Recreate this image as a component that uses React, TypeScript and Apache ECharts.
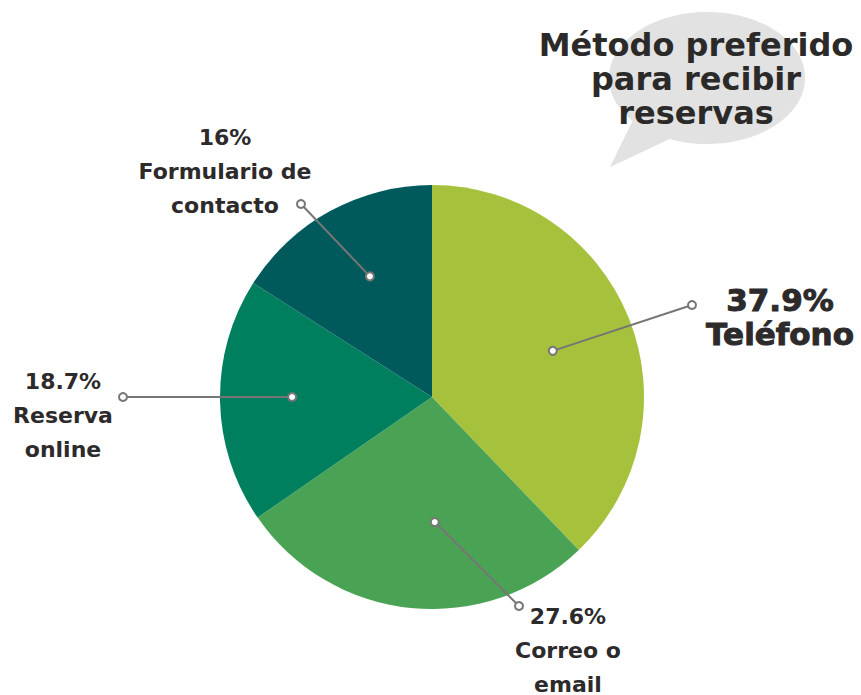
import React, { useEffect, useRef } from "react";
import * as echarts from "echarts";

const categories = ["Teléfono", "Correo o email", "Reserva online", "Formulario de contacto"];
const values = [37.9, 27.6, 18.7, 16];
const labelNames = ["Teléfono", "Correo o\nemail", "Reserva\nonline", "Formulario de\ncontacto"];
const colors = ["#a6c13c", "#4aa354", "#007f5f", "#005a5c"];
const titleText = "Método preferido\npara recibir\nreservas";

// layout
const CX = 432;
const CY = 397;
const R = 212;
const labelPos = [[780, 317], [568, 650], [63, 415], [225, 171]];
const leaderEnd = [[692, 305], [519, 606], [123, 397], [301, 204]];
const leaderStartFrac = [0.61, 0.59, 0.66, 0.64];
const leaderAngleOffset = [1, -7, 0, 1.5];
const FONT = "DejaVu Sans";

export default function App() {
  const ref = useRef<HTMLDivElement>(null);
  useEffect(() => {
    if (!ref.current) return;
    const chart = echarts.init(ref.current, null, { renderer: "svg" });
    const total = values.reduce((a, b) => a + b, 0);
    let acc = 0;
    const leaders: any[] = [];
    values.forEach((v, i) => {
      const mid = ((acc + v / 2) / total) * 360 + leaderAngleOffset[i];
      acc += v;
      const rad = (mid * Math.PI) / 180;
      const r = R * leaderStartFrac[i];
      const sx = CX + r * Math.sin(rad);
      const sy = i === 2 ? CY : CY - r * Math.cos(rad);
      const [ex, ey] = leaderEnd[i];
      leaders.push({
        type: "line",
        z: 10,
        shape: { x1: sx, y1: sy, x2: ex, y2: ey },
        style: { stroke: "#767676", lineWidth: 2 },
      });
      [[sx, sy], [ex, ey]].forEach(([x, y]) =>
        leaders.push({
          type: "circle",
          z: 11,
          shape: { cx: x, cy: y, r: 4 },
          style: { fill: "#ffffff", stroke: "#767676", lineWidth: 2 },
        })
      );
    });

    const base = { fontFamily: FONT, fontWeight: "bold", color: "#2d2a2b", align: "center" };

    chart.setOption({
      animation: false,
      backgroundColor: "#ffffff",
      graphic: [
        {
          type: "ellipse",
          z: 1,
          shape: { cx: 707, cy: 78, rx: 98, ry: 66 },
          style: { fill: "#e2e2e2" },
        },
        {
          type: "polygon",
          z: 1,
          shape: { points: [[634, 118], [610, 167], [672, 138]] },
          style: { fill: "#e2e2e2" },
        },
        {
          type: "text",
          z: 5,
          x: 696,
          y: 79,
          style: {
            text: titleText,
            align: "center",
            verticalAlign: "middle",
            fontFamily: FONT,
            fontWeight: "bold",
            fontSize: 32,
            lineHeight: 34,
            fill: "#2b2a29",
          },
        },
        ...leaders,
      ],
      series: [
        {
          type: "pie",
          center: [CX, CY],
          radius: R,
          startAngle: 90,
          clockwise: true,
          silent: true,
          data: categories.map((c, i) => ({
            name: c,
            value: values[i],
            itemStyle: { color: colors[i] },
          })),
          labelLine: { show: false },
          label: {
            show: true,
            position: "outside",
            formatter: (p: any) =>
              p.dataIndex === 0
                ? `{bp|${p.value}%}\n{bn|${labelNames[p.dataIndex]}}`
                : `{p|${p.value}%}\n{n|${labelNames[p.dataIndex]}}`,
            rich: {
              p: { ...base, fontSize: 22, lineHeight: 34 },
              n: { ...base, fontSize: 22, lineHeight: 34 },
              bp: { ...base, fontSize: 31, lineHeight: 34, textBorderColor: "#2d2a2b", textBorderWidth: 1 },
              bn: { ...base, fontSize: 31, lineHeight: 34, textBorderColor: "#2d2a2b", textBorderWidth: 1 },
            },
          },
          labelLayout: (params: any) => {
            const [x, y] = labelPos[params.dataIndex];
            return { x, y, align: "center", verticalAlign: "middle", hideOverlap: false };
          },
        },
      ],
    });
    return () => chart.dispose();
  }, []);
  return (
    <div
      ref={ref}
      style={{ position: "absolute", left: 0, top: 0, width: 861, height: 695 }}
    />
  );
}
